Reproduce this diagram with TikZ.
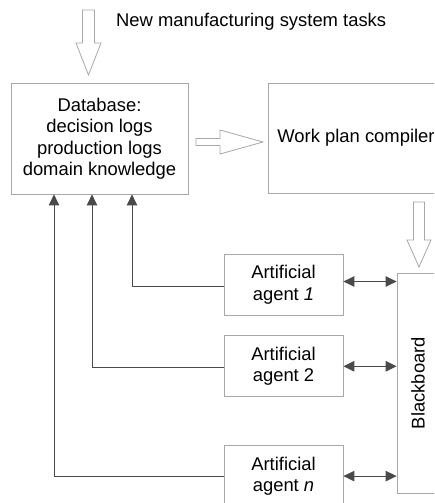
\documentclass[tikz,border=0pt]{standalone}
\usepackage{fontspec}
\setmainfont{Liberation Sans}
\usetikzlibrary{arrows.meta,positioning}
\definecolor{boxgray}{HTML}{A8A8A8}
\definecolor{linegray}{HTML}{4A4A4A}

\begin{document}
\begin{tikzpicture}[x=1pt,y=-1pt,
			font=\fontsize{18.4}{21.5}\selectfont,
			box/.style={draw=boxgray,line width=0.8pt,inner sep=0pt,align=center},
			agent/.style={box,minimum width=119pt,minimum height=61pt},
			link/.style={draw=linegray,line width=1pt},
			tip/.style={-{Triangle[length=11pt,width=10.5pt]}},
			both/.style={{Triangle[length=11pt,width=10.5pt]}-{Triangle[length=11pt,width=10.5pt]}},
			hollow/.style={draw=boxgray,line width=0.8pt,fill=white}]
			\useasboundingbox (0,0) rectangle (434,503);
			\clip (0,0) rectangle (434,503);
			\node (db) [box,minimum width=177pt,minimum height=111pt] at (99.5,138.5)
				{Database:\\decision logs\\production logs\\domain knowledge};
			\node (wpc) [box,minimum width=176pt,minimum height=110pt] at (356,138) {Work plan compiler};
			\node (bb) [box,minimum width=42pt,minimum height=220pt,
				label={[rotate=90]center:Blackboard}] at (418,383) {};
			\node (a1) [agent] at (283.5,284.5) {Artificial\\agent \textit{1}};
			\node (a2) [agent,below=20pt of a1] {Artificial\\agent 2};
			\node (an) [agent,below=48pt of a2] {Artificial\\agent \textit{n}};
			\node (tasks) [anchor=base west,inner sep=0pt] at (116,27) {New manufacturing system tasks};
			% hollow arrows
			\draw[hollow] (82.5,10) -- (94.5,10) -- (94.5,43) -- (101,43) -- (88.5,75)
				-- (76,43) -- (82.5,43) -- cycle;
			\draw[hollow] (196,138.5) -- (220,138.5) -- (220,130) -- (263,142)
				-- (220,154) -- (220,145.5) -- (196,145.5) -- cycle;
			\draw[hollow] (413.5,202) -- (424.5,202) -- (424.5,240) -- (431,240) -- (419,267)
				-- (407,240) -- (413.5,240) -- cycle;
			% agents and blackboard
			\draw[link,both] ([yshift=3pt]a1.east) -- ([yshift=3pt]a1.east -| bb.west);
			\draw[link,both] (a2.east) -- (a2.east -| bb.west);
			\draw[link,both] (an.east) -- (an.east -| bb.west);
			% back to the database
			\draw[link,tip] ([yshift=-2pt]a1.west) -| ([xshift=32.5pt]db.south);
			\draw[link,tip] ([yshift=-1pt]a2.west) -| ([xshift=-7.5pt]db.south);
			\draw[link,tip] (an.west) -| ([xshift=-45.5pt]db.south);
		\end{tikzpicture}
\end{document}
